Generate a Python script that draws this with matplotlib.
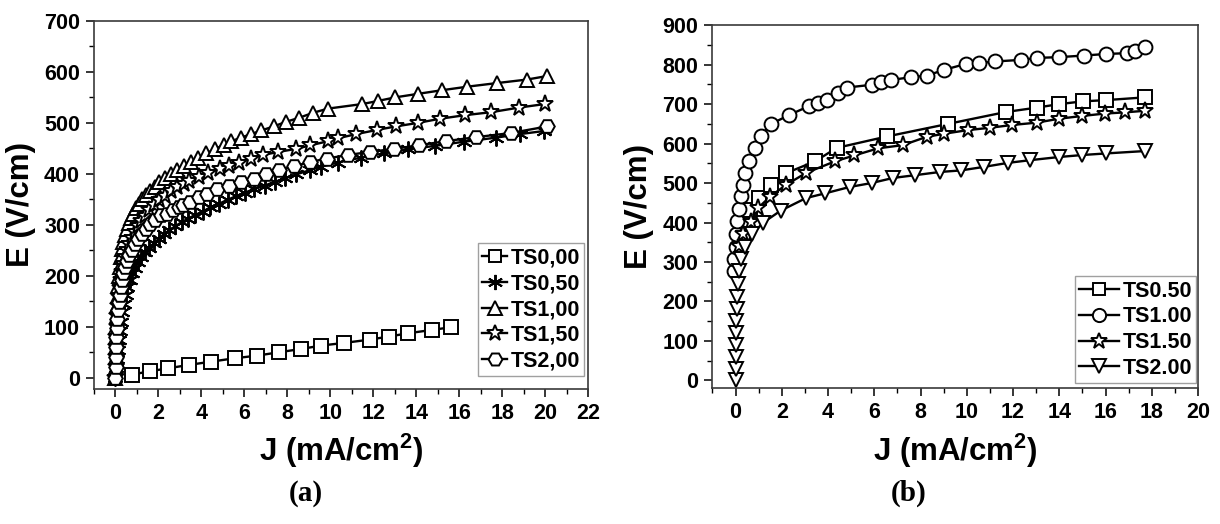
import matplotlib
matplotlib.use('Agg')
import matplotlib.pyplot as plt
from matplotlib.ticker import MultipleLocator

plt.rcParams['font.family'] = ['Liberation Sans', 'DejaVu Sans']
plt.rcParams['font.weight'] = 'bold'
plt.rcParams['mathtext.fontset'] = 'custom'
plt.rcParams['mathtext.rm'] = 'Liberation Sans:bold'
plt.rcParams['mathtext.bf'] = 'Liberation Sans:bold'

# --- panel (a): E-J curves, comma decimal labels ---
j_ts000 = [0.77, 1.6, 2.46, 3.42, 4.47, 5.56, 6.61, 7.62, 8.66, 9.58, 10.65, 11.86, 12.73, 13.64, 14.75, 15.64]
e_ts000 = [5.9, 12.4, 18.3, 24.9, 31.4, 38, 43.2, 49.8, 56.3, 62.9, 68.1, 74.7, 80.6, 87.1, 93.7, 98.9]

j_ts050 = [0, 0.03, 0.06, 0.1, 0.15, 0.2, 0.26, 0.32, 0.39, 0.47, 0.56, 0.66, 0.77, 0.9, 1.04, 1.2,
           1.38, 1.58, 1.8, 2.01, 2.24, 2.51, 2.78, 3.08, 3.38, 3.7, 4.06, 4.42, 4.81, 5.22, 5.61,
           6.02, 6.46, 6.95, 7.41, 7.89, 8.42, 9.05, 9.55, 10.35, 11.45, 12.48, 13.64, 14.89, 16.22,
           17.72, 18.84, 19.95]
e_ts050 = [0, 18, 36, 55, 74, 92, 110, 128, 145, 162, 178, 192, 205, 216, 226, 236,
           246, 255, 264, 272, 281, 289, 297, 305, 312, 319, 326, 334, 341, 349, 356,
           363, 370, 377, 384, 391, 399, 407, 414, 422, 432, 440, 448, 455, 463,
           471, 478, 484]

j_ts100 = [0, 0.01, 0.02, 0.03, 0.04, 0.05, 0.07, 0.09, 0.11, 0.14, 0.17, 0.21, 0.26, 0.31, 0.37,
           0.44, 0.52, 0.61, 0.71, 0.82, 0.95, 1.09, 1.25, 1.42, 1.61, 1.82, 2.05, 2.3, 2.57, 2.86,
           3.17, 3.5, 3.85, 4.22, 4.62, 5.04, 5.4, 5.84, 6.32, 6.79, 7.36, 7.94, 8.55, 9.22, 9.9,
           11.5, 12.22, 13.02, 14.09, 15.19, 16.38, 17.74, 19.16, 20.1]
e_ts100 = [0, 20, 40, 60, 80, 100, 120, 140, 160, 180, 200, 218, 236, 252, 267,
           280, 292, 303, 313, 322, 332, 341, 350, 359, 367, 375, 383, 391, 399, 407,
           415, 423, 431, 440, 448, 457, 464, 471, 478, 485, 493, 502, 510, 520, 528,
           537, 543, 550, 557, 564, 571, 578, 585, 592]

j_ts150 = [0, 0.01, 0.02, 0.03, 0.05, 0.07, 0.09, 0.12, 0.15, 0.19, 0.24, 0.3, 0.37, 0.45, 0.54,
           0.64, 0.76, 0.89, 1.04, 1.2, 1.38, 1.58, 1.8, 2.04, 2.3, 2.58, 2.88, 3.17, 3.44, 3.88,
           4.33, 4.86, 5.31, 5.75, 6.29, 6.87, 7.59, 8.42, 9.08, 9.9, 10.38, 11.22, 12.16, 13.05,
           14.09, 15.1, 16.26, 17.5, 18.79, 20.0]
e_ts150 = [0, 20, 40, 60, 80, 100, 120, 140, 158, 175, 192, 208, 223, 237, 250,
           262, 274, 286, 297, 308, 318, 328, 338, 348, 357, 366, 375, 380, 386, 394,
           401, 410, 416, 422, 430, 437, 443, 449, 456, 464, 470, 478, 486, 493,
           500, 508, 515, 521, 530, 537]

j_ts200 = [0, 0.01, 0.02, 0.03, 0.05, 0.07, 0.09, 0.12, 0.15, 0.19, 0.24, 0.3, 0.37, 0.45, 0.54,
           0.65, 0.77, 0.91, 1.06, 1.23, 1.42, 1.63, 1.86, 2.11, 2.38, 2.67, 2.98, 3.13, 3.47,
           3.88, 4.24, 4.74, 5.31, 5.84, 6.43, 7.0, 7.62, 8.33, 9.05, 9.85, 10.83, 11.86, 12.97,
           14.12, 15.37, 16.8, 18.4, 20.1]
e_ts200 = [0, 20, 40, 60, 80, 98, 115, 132, 148, 163, 178, 192, 205, 217, 229,
           240, 251, 262, 272, 282, 292, 301, 310, 319, 322, 329, 334, 338, 344,
           354, 361, 371, 377, 384, 390, 400, 407, 415, 423, 430, 437, 443, 449,
           456, 464, 472, 480, 493]

# --- panel (b): E-J curves, dot decimal labels ---
j_b050 = [0.64, 1.0, 1.55, 2.18, 3.44, 4.37, 6.55, 9.2, 11.69, 13.02, 14.0, 15.03, 16.0, 17.69]
e_b050 = [432, 462, 494, 525, 555, 589, 618, 650, 680, 691, 700, 707, 710, 717]

j_b100 = [-0.06, -0.05, 0.0, 0.02, 0.08, 0.13, 0.22, 0.33, 0.42, 0.6, 0.86, 1.08, 1.52, 2.3,
          3.18, 3.57, 3.94, 4.42, 4.82, 5.9, 6.28, 6.7, 7.57, 8.26, 9.03, 9.97, 10.54, 11.23,
          12.34, 13.02, 14.0, 15.06, 16.02, 16.92, 17.29, 17.69]
e_b100 = [276, 308, 338, 371, 403, 433, 466, 495, 525, 555, 590, 619, 649, 672,
          695, 703, 711, 727, 742, 749, 756, 761, 768, 772, 787, 802, 804, 808,
          812, 817, 819, 823, 827, 829, 834, 844]

j_b150 = [0.15, 0.33, 0.67, 0.96, 1.48, 2.17, 3.06, 4.3, 5.14, 6.17, 7.23, 8.26, 9.03, 10.03,
          11.0, 11.95, 13.02, 14.0, 15.0, 15.97, 16.83, 17.69]
e_b150 = [340, 370, 402, 436, 465, 495, 526, 555, 570, 588, 596, 617, 625, 634,
          640, 647, 653, 663, 670, 676, 679, 683]

j_b200 = [0, 0, 0.01, 0.01, 0.02, 0.03, 0.05, 0.08, 0.11, 0.16, 0.24, 0.4, 0.71, 1.2, 1.95,
          3.05, 3.88, 4.93, 5.88, 6.82, 7.78, 8.83, 9.75, 10.75, 11.77, 12.75, 14.0, 15.0,
          16.02, 17.69]
e_b200 = [0, 30, 60, 90, 121, 151, 181, 211, 245, 276, 308, 337, 370, 400, 430,
          462, 474, 490, 500, 513, 520, 528, 532, 541, 551, 558, 566, 571,
          575, 581]

labels_a = ['TS0,00', 'TS0,50', 'TS1,00', 'TS1,50', 'TS2,00']
markers_a = ['s', (6, 2, 0), '^', '*', 'H']
labels_b = ['TS0.50', 'TS1.00', 'TS1.50', 'TS2.00']
markers_b = ['s', 'o', '*', 'v']
# marker sizes in points
size_of = {'s': 9.5, 'o': 10, '^': 10.5, 'v': 10.5, 'H': 10.5, '*': 12.5, (6, 2, 0): 11.5}

fig = plt.figure(figsize=(12.2, 5.24), dpi=100)
ax1 = fig.add_axes([0.077, 0.258, 0.405, 0.702])
ax2 = fig.add_axes([0.584, 0.259, 0.398, 0.693])


def draw_series(ax, j, e, marker, label):
    ax.plot(j, e, color='black', lw=1.7, marker=marker, ms=size_of[marker], mfc='white',
            mec='black', mew=1.4, label=label)


series_a = [(j_ts000, e_ts000), (j_ts050, e_ts050), (j_ts100, e_ts100),
            (j_ts150, e_ts150), (j_ts200, e_ts200)]
for (j, e), m, lab in zip(series_a, markers_a, labels_a):
    draw_series(ax1, j, e, m, lab)

series_b = [(j_b050, e_b050), (j_b100, e_b100), (j_b150, e_b150), (j_b200, e_b200)]
for (j, e), m, lab in zip(series_b, markers_b, labels_b):
    draw_series(ax2, j, e, m, lab)

ax1.set_xlim(-1, 22)
ax1.set_ylim(-22, 700)
ax1.xaxis.set_major_locator(MultipleLocator(2))
ax1.xaxis.set_minor_locator(MultipleLocator(1))
ax1.yaxis.set_major_locator(MultipleLocator(100))
ax1.yaxis.set_minor_locator(MultipleLocator(50))

ax2.set_xlim(-1, 20)
ax2.set_ylim(-20, 900)
ax2.xaxis.set_major_locator(MultipleLocator(2))
ax2.xaxis.set_minor_locator(MultipleLocator(1))
ax2.yaxis.set_major_locator(MultipleLocator(100))
ax2.yaxis.set_minor_locator(MultipleLocator(50))

# legend handle length and anchor differ a little between the two panels
legend_opts = {ax1: dict(handlelength=1.15, bbox_to_anchor=(0.992, 0.035)),
               ax2: dict(handlelength=1.85, bbox_to_anchor=(0.996, 0.014))}

for ax in (ax1, ax2):
    for sp in ax.spines.values():
        sp.set_color('#3a3a3a')
        sp.set_linewidth(1.2)
    ax.tick_params(which='major', direction='out', length=6, width=1.1, labelsize=15.5, pad=4)
    ax.tick_params(which='minor', direction='out', length=3.5, width=1.0)
    for t in ax.get_xticklabels() + ax.get_yticklabels():
        t.set_fontweight('bold')
    ax.set_xlabel(r'J (mA/cm$^{\mathbf{2}}$)', fontsize=22.5, fontweight='bold', labelpad=6)
    ax.set_ylabel('E (V/cm)', fontsize=22.5, fontweight='bold', labelpad=6)
    leg = ax.legend(loc='lower right', fontsize=15.5, frameon=True, fancybox=False,
                    handletextpad=0.15, labelspacing=0.22, borderpad=0.2,
                    borderaxespad=0.0, markerscale=0.95, **legend_opts[ax])
    leg.get_frame().set_edgecolor('#888888')
    leg.get_frame().set_linewidth(1.0)
    for t in leg.get_texts():
        t.set_fontweight('bold')

fig.text(0.251, 0.058, '(a)', fontsize=21, fontweight='bold',
         family=['Liberation Serif', 'DejaVu Serif'], ha='center', va='center')
fig.text(0.745, 0.058, '(b)', fontsize=21, fontweight='bold',
         family=['Liberation Serif', 'DejaVu Serif'], ha='center', va='center')

fig.savefig('out.png', dpi=100)
